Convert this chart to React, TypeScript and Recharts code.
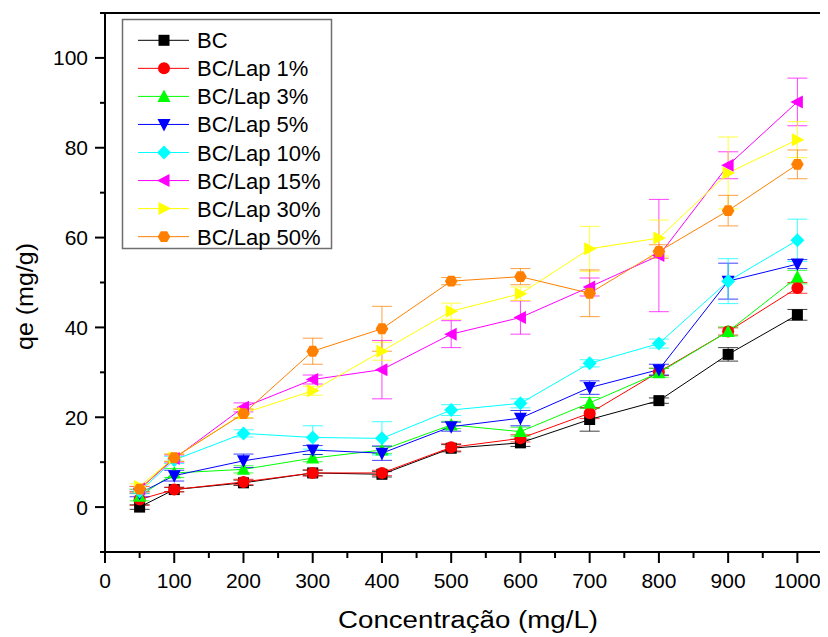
import React from 'react';
import { LineChart, Line, XAxis, YAxis, ErrorBar, ReferenceLine } from 'recharts';

// concentração (mg/L)
const concentrations = [50, 100, 200, 300, 400, 500, 600, 700, 800, 900, 1000];

// qe (mg/g) per sample, with error bar half-widths
const bc = [0, 3.9, 5.4, 7.6, 7.3, 13.1, 14.3, 19.5, 23.7, 34.0, 42.8];
const bcErr = [0.5, 0.5, 0.6, 0.6, 0.6, 0.8, 0.8, 2.6, 0.6, 1.5, 1.2];
const lap1 = [1.7, 3.9, 5.6, 7.6, 7.6, 13.3, 15.3, 20.9, 30.1, 39.1, 48.8];
const lap1Err = [1.3, 0.5, 0.6, 0.7, 0.6, 0.8, 0.8, 1.2, 0.8, 0.8, 1.2];
const lap3 = [2.4, 7.6, 8.4, 10.9, 12.7, 18.3, 16.8, 23.2, 29.9, 39.1, 51.2];
const lap3Err = [1, 1, 0.8, 0.8, 0.8, 0.8, 1, 1.2, 1, 1, 1.5];
const lap5 = [3.1, 7.0, 10.3, 12.7, 12.0, 17.9, 19.8, 26.6, 30.6, 50.3, 54.1];
const lap5Err = [0.8, 1.2, 1.5, 1, 1.6, 1, 1.7, 1.5, 1.2, 4, 1];
const lap10 = [3.5, 10.5, 16.4, 15.5, 15.3, 21.6, 23.1, 32.0, 36.4, 50.3, 59.4];
const lap10Err = [0.5, 0.8, 0.8, 2.6, 3.7, 1.2, 1, 0.8, 1, 5, 4.7];
const lap15 = [4.0, 10.8, 22.2, 28.4, 30.6, 38.5, 42.2, 49.0, 56.0, 76.1, 90.2];
const lap15Err = [0.6, 0.8, 1, 1, 6.5, 3, 3.7, 2, 12.5, 3, 5.3];
const lap30 = [4.6, 11.0, 20.9, 25.9, 34.7, 43.6, 47.5, 57.5, 59.9, 74.4, 81.8];
const lap30Err = [0.6, 0.8, 1, 1, 2, 1.8, 1.5, 5, 4, 8, 4];
const lap50 = [4.0, 11.0, 20.8, 34.7, 39.7, 50.3, 51.3, 47.6, 56.9, 66.0, 76.3];
const lap50Err = [0.6, 0.8, 1, 2.9, 5, 0.8, 1.8, 5.2, 1.5, 3.4, 3.2];

const xTicks = [0, 50, 100, 150, 200, 250, 300, 350, 400, 450, 500, 550, 600, 650, 700, 750, 800, 850, 900, 950, 1000];
const yTicks = [-10, 0, 10, 20, 30, 40, 50, 60, 70, 80, 90, 100, 110];

const series = [
  { key: 'bc', name: 'BC', values: bc, errs: bcErr, color: '#000000', shape: 'square' },
  { key: 'lap1', name: 'BC/Lap 1%', values: lap1, errs: lap1Err, color: '#ff0000', shape: 'circle' },
  { key: 'lap3', name: 'BC/Lap 3%', values: lap3, errs: lap3Err, color: '#00ff00', shape: 'up' },
  { key: 'lap5', name: 'BC/Lap 5%', values: lap5, errs: lap5Err, color: '#0000ff', shape: 'down' },
  { key: 'lap10', name: 'BC/Lap 10%', values: lap10, errs: lap10Err, color: '#00ffff', shape: 'diamond' },
  { key: 'lap15', name: 'BC/Lap 15%', values: lap15, errs: lap15Err, color: '#ff00ff', shape: 'left' },
  { key: 'lap30', name: 'BC/Lap 30%', values: lap30, errs: lap30Err, color: '#ffff00', shape: 'right' },
  { key: 'lap50', name: 'BC/Lap 50%', values: lap50, errs: lap50Err, color: '#ff8000', shape: 'hex' },
];

const data = concentrations.map((c, i) => {
  const row: Record<string, number> = { x: c };
  series.forEach((s) => {
    row[s.key] = s.values[i];
    row[s.key + 'Err'] = s.errs[i];
  });
  return row;
});

const FONT = '"Liberation Sans", Arial, sans-serif';

function Marker({ shape, cx, cy, color }: { shape: string; cx: number; cy: number; color: string }) {
  const r = 6;
  const pts = (p: number[][]) => p.map((q) => `${cx + q[0]},${cy + q[1]}`).join(' ');
  switch (shape) {
    case 'square':
      return <rect x={cx - 5.5} y={cy - 5.5} width={11} height={11} fill={color} />;
    case 'circle':
      return <circle cx={cx} cy={cy} r={r} fill={color} />;
    case 'up':
      return <polygon points={pts([[0, -r - 1], [r + 0.5, r - 0.5], [-r - 0.5, r - 0.5]])} fill={color} />;
    case 'down':
      return <polygon points={pts([[0, r + 1], [r + 0.5, -r + 0.5], [-r - 0.5, -r + 0.5]])} fill={color} />;
    case 'diamond':
      return <polygon points={pts([[0, -r - 1], [r + 1, 0], [0, r + 1], [-r - 1, 0]])} fill={color} />;
    case 'left':
      return <polygon points={pts([[-r - 1, 0], [r - 0.5, -r - 0.5], [r - 0.5, r + 0.5]])} fill={color} />;
    case 'right':
      return <polygon points={pts([[r + 1, 0], [-r + 0.5, -r - 0.5], [-r + 0.5, r + 0.5]])} fill={color} />;
    default: {
      const h: number[][] = [];
      for (let k = 0; k < 6; k++) {
        const a = (Math.PI / 3) * k;
        h.push([r * Math.cos(a) * 1.05, r * Math.sin(a) * 1.05]);
      }
      return <polygon points={pts(h)} fill={color} />;
    }
  }
}

const renderDot = (shape: string, color: string, key: string) => (props: any) => {
  if (props.cx == null || props.cy == null) return <g key={`${key}-${props.index}`} />;
  return (
    <g key={`${key}-${props.index}`}>
      <Marker shape={shape} cx={props.cx} cy={props.cy} color={color} />
    </g>
  );
};

const XTick = (props: any) => {
  const { x, y, payload } = props;
  const major = payload.value % 100 === 0;
  return (
    <g>
      <line x1={x} x2={x} y1={y} y2={y + (major ? 11 : 6)} stroke="#000" strokeWidth={2} />
      {major && (
        <text x={x} y={y + 36} textAnchor="middle" fontSize={21} fontFamily={FONT} fill="#000">
          {payload.value}
        </text>
      )}
    </g>
  );
};

const YTick = (props: any) => {
  const { x, y, payload } = props;
  const v = payload.value;
  const major = v % 20 === 0 && v >= 0 && v <= 100;
  return (
    <g>
      <line x1={x - (major ? 10 : 5)} x2={x} y1={y} y2={y} stroke="#000" strokeWidth={2} />
      {major && (
        <text x={x - 17} y={y + 7.5} textAnchor="end" fontSize={21} fontFamily={FONT} fill="#000">
          {v}
        </text>
      )}
    </g>
  );
};

export default function App() {
  const rowY = (i: number) => 32.3 + i * 28.05;
  return (
    <div style={{ position: 'relative', width: 820, height: 629, overflow: 'hidden', background: '#fff' }}>
      <LineChart width={840} height={629} data={data} margin={{ top: 5, right: 16, bottom: 25, left: 10 }}>
        <XAxis
          dataKey="x"
          type="number"
          domain={[0, 1050]}
          ticks={xTicks}
          interval={0}
          tickSize={0}
          tickMargin={0}
          tickLine={false}
          tick={<XTick />}
          height={60}
          axisLine={{ stroke: '#000', strokeWidth: 2 }}
        />
        <YAxis
          type="number"
          domain={[-10, 110]}
          ticks={yTicks}
          interval={0}
          tickSize={0}
          tickMargin={0}
          tickLine={false}
          tick={<YTick />}
          width={87}
          axisLine={{ stroke: '#000', strokeWidth: 2 }}
        />
        <ReferenceLine y={110} stroke="#000" strokeWidth={2} />
        {series.map((s) => (
          <Line
            key={s.key}
            dataKey={s.key}
            name={s.name}
            stroke={s.color}
            strokeWidth={1}
            dot={renderDot(s.shape, s.color, s.key)}
            activeDot={false}
            isAnimationActive={false}
          >
            <ErrorBar dataKey={s.key + 'Err'} width={10} stroke={s.color} strokeWidth={1} strokeOpacity={0.75} direction="y" />
          </Line>
        ))}
      </LineChart>
      <svg width={820} height={629} style={{ position: 'absolute', left: 0, top: 0, pointerEvents: 'none' }}>
        <text
          x={330}
          y={620}
          textLength={260}
          lengthAdjust="spacingAndGlyphs"
          fontSize={23}
          fontFamily={FONT}
          fill="#000"
        >
          Concentração (mg/L)
        </text>
        <text
          transform="translate(25,342) rotate(-90)"
          textLength={107}
          lengthAdjust="spacingAndGlyphs"
          fontSize={24}
          fontFamily={FONT}
          fill="#000"
        >
          qe (mg/g)
        </text>
        <rect x={114.5} y={11.5} width={209} height={229} fill="#fff" stroke="#6e6e6e" strokeWidth={1.5} />
        {series.map((s, i) => (
          <g key={s.key}>
            <line x1={130} x2={181} y1={rowY(i)} y2={rowY(i)} stroke={s.color} strokeWidth={1} />
            <Marker shape={s.shape} cx={156} cy={rowY(i)} color={s.color} />
            <text x={189} y={rowY(i) + 8} fontSize={22} fontFamily={FONT} fill="#000">
              {s.name}
            </text>
          </g>
        ))}
      </svg>
    </div>
  );
}
